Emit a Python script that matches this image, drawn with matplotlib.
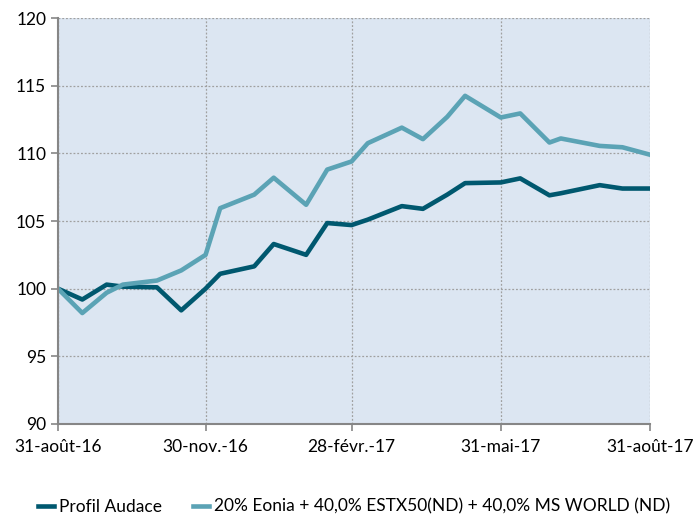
import pandas as pd
import matplotlib.pyplot as plt

plt.rcParams['font.family'] = ['Lato', 'DejaVu Sans']

# Données
dates = pd.to_datetime([
    "2016-08-31", "2016-09-15", "2016-09-30", "2016-10-10", "2016-10-31",
    "2016-11-15", "2016-11-30", "2016-12-09", "2016-12-30", "2017-01-11",
    "2017-01-31", "2017-02-13", "2017-02-28", "2017-03-10", "2017-03-31",
    "2017-04-13", "2017-04-28", "2017-05-09", "2017-05-31", "2017-06-12",
    "2017-06-30", "2017-07-07", "2017-07-31", "2017-08-14", "2017-08-31",
])
profil_audace = [
    100.0, 99.2, 100.3, 100.15, 100.1,
    98.4, 100.0, 101.1, 101.65, 103.3,
    102.5, 104.85, 104.7, 105.1, 106.1,
    105.9, 106.95, 107.8, 107.85, 108.15,
    106.9, 107.05, 107.65, 107.4, 107.4,
]
indice = [
    100.0, 98.2, 99.7, 100.3, 100.6,
    101.35, 102.5, 105.95, 106.95, 108.2,
    106.2, 108.8, 109.4, 110.75, 111.9,
    111.05, 112.7, 114.25, 112.65, 112.95,
    110.8, 111.1, 110.55, 110.45, 109.9,
]
tick_dates = pd.to_datetime(["2016-08-31", "2016-11-30", "2017-02-28", "2017-05-31", "2017-08-31"])
tick_labels = ["31-août-16", "30-nov.-16", "28-févr.-17", "31-mai-17", "31-août-17"]

fig = plt.figure(figsize=(6.96, 5.15), dpi=100)
ax = fig.add_axes([0.0833, 0.1767, 0.8506, 0.7883])
ax.set_facecolor('#DCE6F2')

ax.plot(dates, profil_audace, color='#00586F', lw=3.3, label='Profil Audace')
ax.plot(dates, indice, color='#5BA3B5', lw=3.3,
        label='20% Eonia + 40,0% ESTX50(ND) + 40,0% MS WORLD (ND)')

ax.set_xlim(tick_dates[0], tick_dates[-1])
ax.set_ylim(90, 120)
ax.set_yticks(range(90, 121, 5))
ax.set_xticks(tick_dates)
ax.set_xticklabels(tick_labels)

ax.grid(True, color='#A0A0A0', linestyle=(0, (1.5, 1.5)), lw=0.9)
for s in ['top', 'right']:
    ax.spines[s].set_visible(False)
for s in ['left', 'bottom']:
    ax.spines[s].set_color('#868686')
    ax.spines[s].set_linewidth(1.5)
ax.tick_params(axis='both', colors='#868686', length=5, width=1.2, labelcolor='black', labelsize=12.5)
ax.tick_params(axis='x', pad=6)

ax.legend(loc='upper center', bbox_to_anchor=(0.5, -0.145), ncol=2, frameon=False,
          fontsize=12.5, handlelength=0.9, handletextpad=0.3, columnspacing=1.8)

plt.savefig('out.png', dpi=100)
